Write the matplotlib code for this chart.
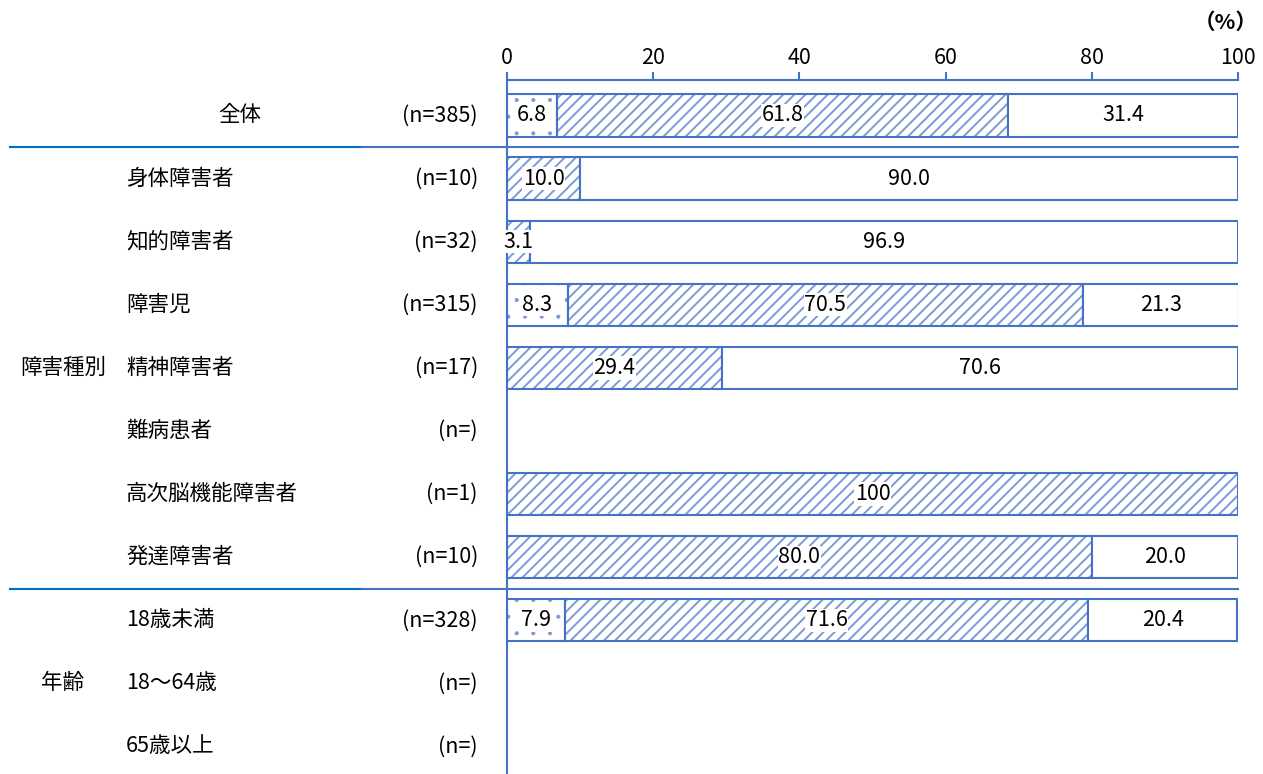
import numpy as np
import matplotlib
matplotlib.use('Agg')
import matplotlib.pyplot as plt
from matplotlib import transforms

plt.rcParams['font.family'] = ['Noto Sans CJK JP', 'DejaVu Sans']

categories = ['全体', '身体障害者', '知的障害者', '障害児', '精神障害者', '難病患者',
              '高次脳機能障害者', '発達障害者', '18歳未満', '18～64歳', '65歳以上']
n_labels = ['(n=385)', '(n=10)', '(n=32)', '(n=315)', '(n=17)', '(n=)',
            '(n=1)', '(n=10)', '(n=328)', '(n=)', '(n=)']
seg_dot = [6.8, 0, 0, 8.3, 0, np.nan, 0, 0, 7.9, np.nan, np.nan]
seg_hatch = [61.8, 10.0, 3.1, 70.5, 29.4, np.nan, 100, 80.0, 71.6, np.nan, np.nan]
seg_white = [31.4, 90.0, 96.9, 21.3, 70.6, np.nan, 0, 20.0, 20.4, np.nan, np.nan]
groups = [('障害種別', 4), ('年齢', 9)]

W, H = 1263, 774
fig = plt.figure(figsize=(W / 100, H / 100), dpi=100)
ax = fig.add_axes([507 / W, 0, (1238 - 507) / W, 1 - 80 / H])

blue = '#4472C4'
hatch_col = '#7A9BD8'
fs = 15.5
y = np.arange(len(categories))
h = 0.67

dot = np.nan_to_num(seg_dot)
hat = np.nan_to_num(seg_hatch)
wht = np.nan_to_num(seg_white)
segs = [(dot, np.zeros(len(y)), '.', 0.5), (hat, dot, '///', 1.4), (wht, dot + hat, '', 1.0)]

for vals, left, hatch, hlw in segs:
    plt.rcParams['hatch.linewidth'] = hlw
    mask = vals > 0
    ax.barh(y[mask], vals[mask], left=left[mask], height=h, color='white',
            edgecolor=hatch_col, linewidth=0, hatch=hatch)
    ax.barh(y[mask], vals[mask], left=left[mask], height=h, fill=False,
            edgecolor=blue, linewidth=1.5)
    for yi, v, l in zip(y[mask], vals[mask], left[mask]):
        txt = '100' if v == 100 else f'{v:.1f}'
        ax.text(l + v / 2, yi, txt, ha='center', va='center', fontsize=fs,
                bbox=dict(facecolor='white', edgecolor='none', pad=0.5))

ax.set_xlim(0, 100)
ax.set_ylim(10.436, -0.5626)
ax.xaxis.tick_top()
ax.set_xticks([0, 20, 40, 60, 80, 100])
ax.tick_params(axis='x', direction='out', length=6, width=1.5, color=blue,
               labelsize=fs, pad=2)
ax.set_yticks([])
for s in ['right', 'bottom']:
    ax.spines[s].set_visible(False)
for s in ['top', 'left']:
    ax.spines[s].set_color(blue)
    ax.spines[s].set_linewidth(1.5)

tr = transforms.blended_transform_factory(fig.transFigure, ax.transData)
for i, (c, n) in enumerate(zip(categories, n_labels)):
    if i == 0:
        fig.text(240 / W, i, c, transform=tr, ha='center', va='center', fontsize=fs)
    else:
        fig.text(126 / W, i, c, transform=tr, ha='left', va='center', fontsize=fs)
    fig.text(478 / W, i, n, transform=tr, ha='right', va='center', fontsize=fs)
for g, yi in groups:
    fig.text(63 / W, yi, g, transform=tr, ha='center', va='center', fontsize=fs)

for yl in [0.5, 7.5]:
    ax.plot([10 / W, 362 / W], [yl, yl], transform=tr, color='#0070C0', lw=1.5, clip_on=False)
    ax.plot([362 / W, 1238 / W], [yl, yl], transform=tr, color=blue, lw=1.5, clip_on=False)

fig.text(1258 / W, 1 - 22 / H, '（%）', ha='right', va='center', fontsize=fs, fontweight='bold')

fig.savefig('out.png', dpi=100)
